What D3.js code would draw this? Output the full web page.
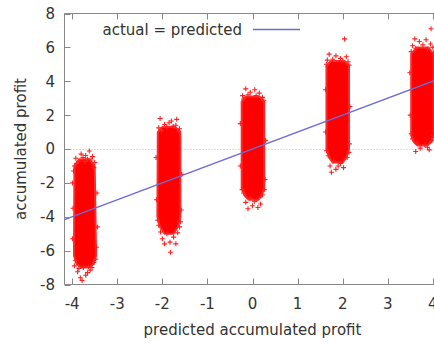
<!DOCTYPE html>
<html>
<head>
<meta charset="utf-8">
<script src="https://cdn.jsdelivr.net/npm/d3@7"></script>
<style>
  body { margin: 0; background: #fff; }
  text { font-family: "DejaVu Sans", Verdana, sans-serif; font-size: 15px; fill: #333; }
</style>
</head>
<body>
<div id="chart"></div>
<script>
// axis ticks
const xTicks = [-4, -3, -2, -1, 0, 1, 2, 3, 4]
const yTicks = [-8, -6, -4, -2, 0, 2, 4, 6, 8]

// dense core of each cluster: [actual, predicted left, predicted right]
const core1 = [[-0.6, -3.84, -3.62], [-1.0, -3.95, -3.50], [-6.3, -3.96, -3.47], [-6.8, -3.90, -3.53], [-7.0, -3.80, -3.63]]
const core2 = [[1.3, -2.00, -1.72], [1.0, -2.10, -1.60], [-4.0, -2.11, -1.60], [-4.6, -2.05, -1.66], [-5.0, -1.95, -1.75]]
const core3 = [[3.1, -0.15, 0.15], [2.8, -0.24, 0.26], [-2.3, -0.24, 0.26], [-2.8, -0.16, 0.20], [-3.0, -0.08, 0.12]]
const core4 = [[5.2, 1.74, 2.04], [4.9, 1.64, 2.14], [0.0, 1.64, 2.14], [-0.5, 1.70, 2.08], [-0.8, 1.78, 2.00]]
const core5 = [[6.0, 3.64, 3.90], [5.6, 3.52, 4.02], [0.8, 3.52, 4.02], [0.4, 3.58, 3.96], [0.2, 3.66, 3.88]]

// sparse points round the cores: [predicted, actual]
const pts1 = [[-3.62, -0.12], [-3.80, -0.30], [-3.70, -0.38], [-3.55, -0.45], [-3.92, -0.55], [-3.66, -0.60], [-3.86, -0.72], [-3.50, -0.80], [-3.95, -1.0],
  [-3.76, -0.5], [-3.58, -0.65], [-3.90, -0.85], [-3.72, -0.75], [-3.52, -1.1], [-3.97, -1.3],
  [-3.99, -2.0], [-3.45, -2.6], [-3.98, -3.5], [-3.44, -4.6], [-3.99, -5.3], [-3.46, -5.8],
  [-3.93, -6.6], [-3.52, -6.7], [-3.75, -7.0], [-3.60, -7.15], [-3.88, -7.25], [-3.70, -7.45], [-3.82, -7.6], [-3.66, -7.3], [-3.78, -7.76], [-3.56, -7.0],
  [-3.95, -6.9], [-3.85, -7.05], [-3.64, -6.95], [-3.48, -6.5]]
const pts2 = [[-2.05, 1.80], [-1.68, 1.75], [-1.85, 1.55], [-1.95, 1.45], [-1.70, 1.40], [-2.08, 1.25], [-1.62, 1.20], [-1.80, 1.65],
  [-1.76, 1.35], [-2.02, 1.10], [-1.90, 1.30], [-1.64, 1.05],
  [-2.14, -0.5], [-1.57, -1.5], [-2.13, -3.0], [-1.58, -3.6],
  [-2.08, -4.5], [-1.62, -4.6], [-1.90, -5.0], [-1.75, -5.2], [-2.00, -5.3], [-1.83, -5.5], [-1.70, -5.6], [-1.95, -5.6], [-1.82, -6.1],
  [-2.10, -4.2], [-1.60, -4.3], [-2.04, -4.9], [-1.66, -4.95]]
const pts3 = [[-0.15, 3.55], [0.05, 3.50], [-0.05, 3.35], [0.15, 3.30], [-0.22, 3.15], [0.22, 3.05], [-0.10, 3.20],
  [0.08, 3.15], [-0.20, 2.95], [0.25, 2.85],
  [-0.27, 1.5], [0.29, 0.5], [-0.27, -1.0], [0.28, -1.8],
  [-0.20, -2.6], [0.22, -2.7], [-0.05, -2.9], [0.10, -3.0], [-0.15, -3.15], [0.18, -3.25], [0.00, -3.35], [-0.10, -3.53], [0.12, -3.45],
  [-0.23, -2.4], [0.26, -2.4], [0.04, -3.1]]
const pts4 = [[2.04, 6.5], [1.70, 5.60], [1.85, 5.50], [2.08, 5.45], [1.95, 5.35], [1.66, 5.25], [2.12, 5.15],
  [1.78, 5.3], [2.00, 5.2], [1.64, 5.0], [2.14, 4.95],
  [1.62, 3.5], [2.16, 2.5], [1.62, 1.0], [2.15, 0.3],
  [1.68, -0.4], [2.10, -0.5], [1.80, -0.7], [1.95, -0.85], [1.72, -1.0], [2.02, -1.1], [1.85, -1.2], [1.75, -1.37],
  [1.64, -0.1], [2.14, -0.2], [1.90, -1.0]]
const pts5 = [[3.96, 7.1], [3.60, 6.50], [3.85, 6.45], [3.70, 6.35], [3.95, 6.20], [3.55, 6.10], [4.00, 6.00],
  [3.78, 6.15], [3.62, 5.95], [3.88, 5.9], [3.52, 5.75], [4.02, 5.7],
  [3.49, 4.5], [4.05, 3.0], [3.50, 2.0],
  [3.55, 0.6], [3.98, 0.5], [3.65, 0.35], [3.82, 0.25], [3.72, 0.05], [3.92, -0.05], [3.62, -0.15],
  [3.52, 0.9], [4.02, 0.8], [3.88, 0.1]]

const xDomain = [-4.17, 4.17]
const yDomain = [-8, 8]
const legendLabel = 'actual = predicted'

const W = 434, H = 343
const m = { l: 64.5, t: 13.5, r: 440.5, b: 284.5 }

const x = d3.scaleLinear().domain(xDomain).range([m.l, m.r])
const y = d3.scaleLinear().domain(yDomain).range([m.b, m.t])

const svg = d3.select('#chart').append('svg')
  .attr('width', W).attr('height', H)

svg.append('defs').append('clipPath').attr('id', 'plot')
  .append('rect').attr('x', m.l).attr('y', m.t).attr('width', m.r - m.l).attr('height', m.b - m.t)

const plot = svg.append('g').attr('clip-path', 'url(#plot)')

// zero line
plot.append('line')
  .attr('x1', m.l).attr('x2', m.r)
  .attr('y1', Math.round(y(0)) + 0.5).attr('y2', Math.round(y(0)) + 0.5)
  .attr('stroke', '#bbb').attr('stroke-dasharray', '1,2')

// cluster cores
const core = d3.area()
  .y(d => y(d[0]))
  .x0(d => x(d[1]))
  .x1(d => x(d[2]))

plot.selectAll('.core')
  .data([core1, core2, core3, core4, core5])
  .enter().append('path')
  .attr('class', 'core')
  .attr('d', core)
  .attr('fill', '#ff0000')
  .attr('stroke', '#ff2a2a').attr('stroke-width', 2).attr('stroke-linejoin', 'round')

// sparse + markers
const plus = 'M-2.5,0H2.5M0,-2.5V2.5'
plot.selectAll('.pt')
  .data([].concat(pts1, pts2, pts3, pts4, pts5))
  .enter().append('path')
  .attr('class', 'pt')
  .attr('transform', d => `translate(${x(d[0])},${y(d[1])})`)
  .attr('d', plus)
  .attr('stroke', '#ff2020').attr('stroke-width', 1.1).attr('fill', 'none')

// actual = predicted
plot.append('line')
  .attr('x1', x(xDomain[0])).attr('y1', y(xDomain[0]))
  .attr('x2', x(xDomain[1])).attr('y2', y(xDomain[1]))
  .attr('stroke', '#6b6bd8').attr('stroke-width', 1.3)

// border
const axis = svg.append('g').attr('stroke', '#888').attr('fill', 'none')
axis.append('path')
  .attr('d', `M${m.r},${m.t}H${m.l}V${m.b}H${m.r}`)

// ticks, gnuplot style: inside, mirrored on top
const tl = 6
xTicks.forEach(t => {
  const px = Math.round(x(t)) + 0.5
  axis.append('line').attr('x1', px).attr('x2', px).attr('y1', m.b).attr('y2', m.b - tl)
  axis.append('line').attr('x1', px).attr('x2', px).attr('y1', m.t).attr('y2', m.t + tl)
})
yTicks.forEach(t => {
  const py = Math.round(y(t)) + 0.5
  axis.append('line').attr('x1', m.l).attr('x2', m.l + tl).attr('y1', py).attr('y2', py)
})

// tick labels
svg.selectAll('.xl').data(xTicks).enter().append('text')
  .attr('x', d => x(d)).attr('y', 309)
  .attr('text-anchor', 'middle')
  .text(d => d)
svg.selectAll('.yl').data(yTicks).enter().append('text')
  .attr('x', 55).attr('y', d => y(d))
  .attr('dy', '0.36em')
  .attr('text-anchor', 'end')
  .text(d => d)

// axis titles
svg.append('text')
  .attr('x', (m.l + m.r) / 2).attr('y', 335)
  .attr('text-anchor', 'middle')
  .text('predicted accumulated profit')
svg.append('text')
  .attr('transform', `translate(26,${(m.t + m.b) / 2}) rotate(-90)`)
  .attr('text-anchor', 'middle')
  .text('accumulated profit')

// legend
svg.append('text')
  .attr('x', 242).attr('y', 35)
  .attr('text-anchor', 'end')
  .text(legendLabel)
svg.append('line')
  .attr('x1', 253).attr('x2', 300).attr('y1', 29.5).attr('y2', 29.5)
  .attr('stroke', '#6b6bd8').attr('stroke-width', 1.3)
</script>
</body>
</html>
